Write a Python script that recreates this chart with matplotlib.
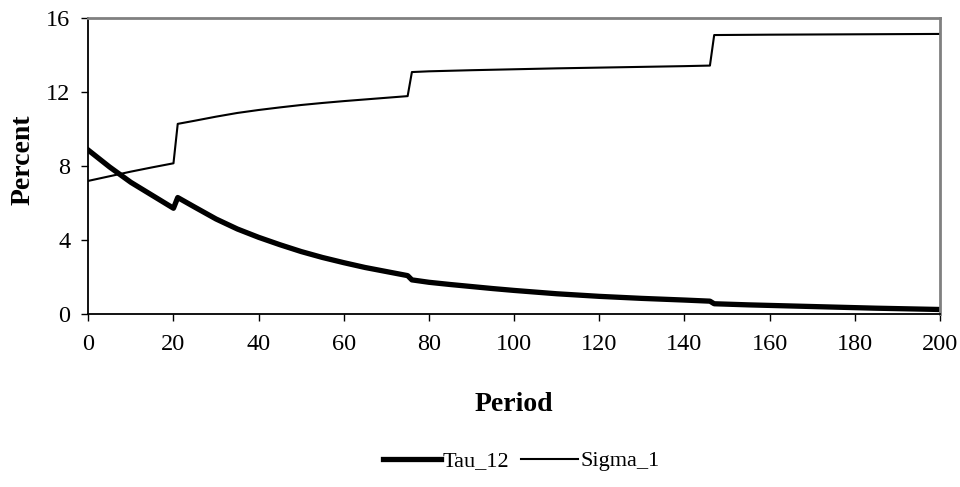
import matplotlib
matplotlib.use('Agg')
import matplotlib.pyplot as plt

# values
period_tau = [0, 5, 10, 15, 20, 21, 25, 30, 35, 40, 45, 50, 55, 60, 65, 70, 75,
              76, 80, 85, 90, 95, 100, 110, 120, 130, 140, 146,
              147, 155, 165, 175, 185, 200]
tau_12 = [8.86, 7.95, 7.12, 6.42, 5.72, 6.3, 5.78, 5.14, 4.6, 4.15, 3.75, 3.38, 3.06, 2.78, 2.52, 2.3, 2.08,
          1.85, 1.72, 1.6, 1.49, 1.38, 1.28, 1.1, 0.96, 0.85, 0.76, 0.7,
          0.56, 0.5, 0.44, 0.38, 0.32, 0.25]

period_sig = [0, 5, 10, 15, 20, 21, 25, 30, 35, 40, 45, 50, 55, 60, 65, 70, 75,
              76, 80, 90, 100, 110, 120, 130, 140, 146,
              147, 160, 180, 200]
sigma_1 = [7.2, 7.45, 7.7, 7.93, 8.15, 10.28, 10.45, 10.67, 10.87, 11.03, 11.17, 11.3, 11.41, 11.51, 11.6, 11.69, 11.78,
           13.08, 13.12, 13.18, 13.23, 13.28, 13.32, 13.36, 13.4, 13.43,
           15.08, 15.1, 15.12, 15.14]

x_ticks = list(range(0, 201, 20))
y_ticks = [0, 4, 8, 12, 16]

plt.rcParams['font.family'] = ['Liberation Serif', 'DejaVu Serif']

fig = plt.figure(figsize=(9.6, 4.87), dpi=100)
ax = fig.add_axes([0.092, 0.355, 0.887, 0.608])  # left, bottom, width, height

ax.plot(period_tau, tau_12, color='black', lw=3.8, label='Tau_12')
ax.plot(period_sig, sigma_1, color='black', lw=1.5, label='Sigma_1')

ax.set_xlim(0, 200)
ax.set_ylim(0, 16)
ax.set_xticks(x_ticks)
ax.set_yticks(y_ticks)
ax.tick_params(axis='both', labelsize=17.5, direction='out', length=5, width=1, color='black')
ax.tick_params(axis='x', pad=9)
ax.tick_params(axis='y', pad=8)

for s in ['top', 'right']:
    ax.spines[s].set_color('#808080')
    ax.spines[s].set_linewidth(2)
for s in ['left', 'bottom']:
    ax.spines[s].set_color('black')
    ax.spines[s].set_linewidth(1.3)

ax.set_xlabel('Period', fontsize=20, fontweight='bold')
ax.set_ylabel('Percent', fontsize=20, fontweight='bold')
ax.xaxis.set_label_coords(0.5, -0.262)
ax.yaxis.set_label_coords(-0.077, 0.52)
ax.yaxis.label.set_va('center')

fig.legend(loc='center', bbox_to_anchor=(0.543, 0.053), ncol=2, frameon=False,
           fontsize=16, handlelength=2.6, handletextpad=0.1, columnspacing=0.5)

fig.savefig('out.png', dpi=100)
